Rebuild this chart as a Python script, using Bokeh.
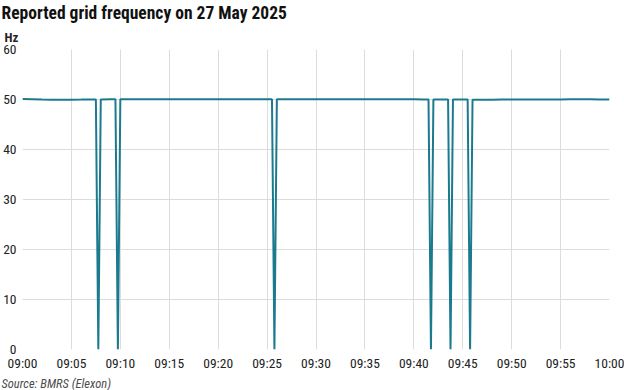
import pandas as pd
from bokeh.plotting import figure
from bokeh.models import (FixedTicker, DatetimeTickFormatter, Title, Range1d,
                          ColumnDataSource)
from bokeh.embed import file_html
from bokeh.resources import INLINE

DATE = "2025-05-27"

times = [
    "09:00:00", "09:01:00", "09:02:00", "09:03:00", "09:04:00", "09:05:00",
    "09:06:00", "09:07:00", "09:07:30", "09:07:45", "09:08:00", "09:09:00",
    "09:09:30", "09:09:45", "09:10:00", "09:11:00", "09:12:00", "09:13:00",
    "09:14:00", "09:15:00", "09:16:00", "09:17:00", "09:18:00", "09:19:00",
    "09:20:00", "09:21:00", "09:22:00", "09:23:00", "09:24:00", "09:25:00",
    "09:25:30", "09:25:45", "09:26:00", "09:27:00", "09:28:00", "09:29:00",
    "09:30:00", "09:31:00", "09:32:00", "09:33:00", "09:34:00", "09:35:00",
    "09:36:00", "09:37:00", "09:38:00", "09:39:00", "09:40:00", "09:41:00",
    "09:41:30", "09:41:45", "09:42:00", "09:43:00", "09:43:30", "09:43:45",
    "09:44:00", "09:45:00", "09:45:30", "09:45:45", "09:46:00", "09:47:00",
    "09:48:00", "09:49:00", "09:50:00", "09:51:00", "09:52:00", "09:53:00",
    "09:54:00", "09:55:00", "09:56:00", "09:57:00", "09:58:00", "09:59:00",
    "10:00:00",
]
hz = [
    50.08, 50.03, 49.98, 49.96, 49.96, 49.97,
    49.98, 50.00, 50.01, 0.0, 50.02, 50.03,
    50.03, 0.0, 50.04, 50.05, 50.05, 50.05,
    50.05, 50.06, 50.06, 50.06, 50.06, 50.06,
    50.06, 50.06, 50.06, 50.06, 50.06, 50.06,
    50.07, 0.0, 50.07, 50.07, 50.07, 50.06,
    50.06, 50.06, 50.05, 50.05, 50.05, 50.05,
    50.05, 50.04, 50.04, 50.03, 50.03, 50.02,
    50.01, 0.0, 50.00, 50.00, 50.00, 0.0,
    49.99, 49.98, 49.98, 0.0, 49.97, 49.97,
    49.97, 49.98, 49.98, 49.99, 49.99, 50.00,
    50.01, 50.02, 50.03, 50.03, 50.03, 50.02,
    50.02,
]
x_tick_labels = ["09:00", "09:05", "09:10", "09:15", "09:20", "09:25", "09:30",
                 "09:35", "09:40", "09:45", "09:50", "09:55", "10:00"]
y_ticks = [0, 10, 20, 30, 40, 50, 60]

TITLE = "Reported grid frequency on 27 May 2025"
UNIT = "Hz"
SOURCE = "Source: BMRS (Elexon)"

LINE = "#1b7a8e"
GRID = "#dcdcdc"
FONT = "'Roboto Condensed', 'DejaVu Sans Condensed', sans-serif"

t = pd.to_datetime([f"{DATE} {s}" for s in times])
src = ColumnDataSource(dict(t=t, hz=hz))
tick_dt = pd.to_datetime([f"{DATE} {s}" for s in x_tick_labels])
tick_ms = [(d - pd.Timestamp("1970-01-01")).total_seconds() * 1000 for d in tick_dt]

p = figure(width=624, height=390, x_axis_type="datetime",
           output_backend="svg", toolbar_location=None,
           x_range=Range1d(tick_dt[0], tick_dt[-1]),
           y_range=Range1d(min(y_ticks), max(y_ticks)),
           min_border_left=21, min_border_right=15,
           min_border_top=0, min_border_bottom=0)

p.line("t", "hz", source=src, line_width=2, color=LINE)

p.xaxis.ticker = FixedTicker(ticks=tick_ms)
fmt = "%H:%M"
p.xaxis.formatter = DatetimeTickFormatter(
    seconds=fmt, minsec=fmt, minutes=fmt, hourmin=fmt, hours=fmt,
    days=fmt, months=fmt, years=fmt)
p.yaxis.ticker = FixedTicker(ticks=y_ticks)

for ax in (p.xaxis, p.yaxis):
    ax.axis_line_color = None
    ax.major_tick_line_color = None
    ax.minor_tick_line_color = None
    ax.major_tick_out = 0
    ax.major_tick_in = 0
    ax.minor_tick_out = 0
    ax.major_label_text_font = FONT
    ax.major_label_text_font_size = "13.5px"
    ax.major_label_text_color = "#222222"
p.xaxis.major_label_standoff = 5
p.yaxis.major_label_standoff = 6

p.xgrid.grid_line_color = GRID
p.ygrid.grid_line_color = GRID
p.outline_line_color = None

p.title.text = TITLE
p.title.text_font = FONT
p.title.text_font_size = "17.5px"
p.title.text_font_style = "bold"
p.title.text_color = "#111111"
p.title.align = "left"
p.title.offset = -21
p.title.standoff = 0

p.add_layout(Title(text=UNIT, text_font=FONT, text_font_size="13px",
                   text_font_style="bold", text_color="#222222",
                   align="left", offset=-18, standoff=10), "above")

p.add_layout(Title(text=SOURCE, text_font=FONT, text_font_size="12.5px",
                   text_font_style="italic", text_color="#4d4d4d",
                   align="left", offset=-21, standoff=0), "below")

open("out.html", "w").write(file_html(p, INLINE))
